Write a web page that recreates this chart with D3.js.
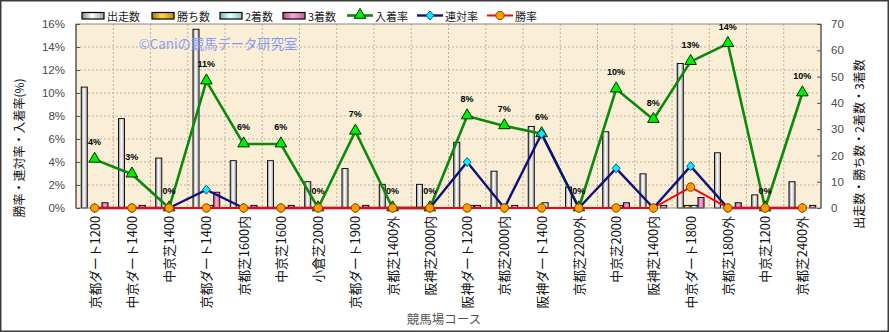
<!DOCTYPE html>
<html>
<head>
<meta charset="utf-8">
<script src="https://cdn.jsdelivr.net/npm/d3@7/dist/d3.min.js"></script>
<style>
  html, body { margin: 0; padding: 0; background: #fff; }
  svg { display: block; }
</style>
</head>
<body>
<svg id="chart" width="889" height="332"></svg>
<script>
// Courses (x categories)
const courses = ["京都ダート1200","中京ダート1400","中京芝1400","京都ダート1400","京都芝1600内","中京芝1600","小倉芝2000","京都ダート1900","京都芝1400外","阪神芝2000内","阪神ダート1200","京都芝2000内","阪神ダート1400","京都芝2200外","中京芝2000","阪神芝1400内","中京ダート1800","京都芝1800外","中京芝1200","京都芝2400外"];

// Counts (right axis)
const runs    = [46, 34, 19, 68, 18, 18, 10, 15, 9, 9, 25, 14, 31, 8, 29, 13, 55, 21, 5, 10];
const wins    = [0, 0, 0, 0, 0, 0, 0, 0, 0, 0, 0, 0, 0, 0, 0, 0, 1, 0, 0, 0];
const seconds = [0, 0, 0, 1, 0, 0, 0, 0, 0, 0, 1, 0, 2, 0, 1, 0, 1, 0, 0, 0];
const thirds  = [2, 1, 0, 6, 1, 1, 0, 1, 0, 0, 1, 1, 0, 0, 2, 1, 4, 2, 0, 1];

// Rates in percent (left axis)
const placeRate = [4.23, 2.94, 0, 11.04, 5.56, 5.56, 0, 6.67, 0, 0, 8.0, 7.14, 6.45, 0, 10.34, 7.69, 12.73, 14.29, 0, 10.0];
const top2Rate  = [0, 0, 0, 1.59, 0, 0, 0, 0, 0, 0, 4.0, 0, 6.45, 0, 3.45, 0, 3.64, 0, 0, 0];
const winRate   = [0, 0, 0, 0, 0, 0, 0, 0, 0, 0, 0, 0, 0, 0, 0, 0, 1.82, 0, 0, 0];

// Axis ticks
const leftTicks  = [0, 2, 4, 6, 8, 10, 12, 14, 16];
const rightTicks = [0, 10, 20, 30, 40, 50, 60, 70];

const svg = d3.select("#chart");
const W = 889, H = 332;
const plot = { x0: 76, x1: 821, y0: 24, y1: 208 };

const x = d3.scaleBand().domain(courses).range([plot.x0, plot.x1]).paddingInner(0).paddingOuter(0);
const yL = d3.scaleLinear().domain([0, 16]).range([plot.y1, plot.y0]);
const yR = d3.scaleLinear().domain([0, 70]).range([plot.y1, plot.y0]);

const barSeries = [
  { name: "出走数", values: runs,    grad: "gRun" },
  { name: "勝ち数", values: wins,    grad: "gWin" },
  { name: "2着数",  values: seconds, grad: "gSec" },
  { name: "3着数",  values: thirds,  grad: "gThd" }
];
const groupW = x.bandwidth() * 0.72;
const xi = d3.scaleBand().domain(barSeries.map(s => s.name)).range([0, groupW]).paddingInner(0.12);

// Gradients for cylinder-like bars
const defs = svg.append("defs");
function grad(id, edge, mid, edge2) {
  const g = defs.append("linearGradient").attr("id", id).attr("x1", "0").attr("x2", "1").attr("y1", "0").attr("y2", "0");
  g.append("stop").attr("offset", "0%").attr("stop-color", edge);
  g.append("stop").attr("offset", "45%").attr("stop-color", mid);
  g.append("stop").attr("offset", "100%").attr("stop-color", edge2);
}
grad("gRun", "#8a8a8a", "#ffffff", "#a0a0a0");
grad("gWin", "#b07800", "#ffd84a", "#c08a00");
grad("gSec", "#78b8b8", "#e8ffff", "#88c8c8");
grad("gThd", "#b05088", "#ffa8d8", "#c060a0");

// Outer frame
svg.append("rect").attr("x", 0.75).attr("y", 0.75).attr("width", W - 1.5).attr("height", H - 1.5)
  .attr("fill", "#fff").attr("stroke", "#3c3c3c").attr("stroke-width", 1.5);

// Plot background
svg.append("rect").attr("x", plot.x0).attr("y", plot.y0)
  .attr("width", plot.x1 - plot.x0).attr("height", plot.y1 - plot.y0)
  .attr("fill", "#faefd6");

// Grid
const grid = svg.append("g").attr("stroke", "#a8a39a").attr("stroke-width", 0.8).attr("stroke-dasharray", "2,2");
leftTicks.slice(1, -1).forEach(t => {
  grid.append("line").attr("x1", plot.x0).attr("x2", plot.x1).attr("y1", yL(t)).attr("y2", yL(t));
});
courses.slice(1).forEach(c => {
  grid.append("line").attr("x1", x(c)).attr("x2", x(c)).attr("y1", plot.y0).attr("y2", plot.y1);
});

// Bars
const bars = svg.append("g");
barSeries.forEach(s => {
  bars.selectAll(null).data(courses).enter().append("rect")
    .attr("x", (c) => x(c) + (x.bandwidth() - groupW) / 2 + xi(s.name))
    .attr("width", xi.bandwidth())
    .attr("y", (c, i) => yR(s.values[i]))
    .attr("height", (c, i) => yR(0) - yR(s.values[i]))
    .attr("fill", `url(#${s.grad})`)
    .attr("stroke", (c, i) => s.values[i] > 0 ? "#000" : "none")
    .attr("stroke-width", 0.9);
});

// Watermark
svg.append("text").attr("x", 218).attr("y", 43).attr("text-anchor", "middle").attr("dominant-baseline", "central")
  .attr("font-family", "'Noto Sans CJK JP', sans-serif").attr("font-size", 13.3)
  .attr("fill", "#889bf4").text("©Caniの競馬データ研究室");

// Plot frame
svg.append("rect").attr("x", plot.x0).attr("y", plot.y0)
  .attr("width", plot.x1 - plot.x0).attr("height", plot.y1 - plot.y0)
  .attr("fill", "none").attr("stroke", "#8a8a8a").attr("stroke-width", 1);
svg.append("line").attr("x1", plot.x0).attr("x2", plot.x0).attr("y1", plot.y0).attr("y2", plot.y1)
  .attr("stroke", "#6a6a6a").attr("stroke-width", 1.5);
svg.append("line").attr("x1", plot.x1).attr("x2", plot.x1).attr("y1", plot.y0).attr("y2", plot.y1)
  .attr("stroke", "#6a6a6a").attr("stroke-width", 1.5);

// Axes
const tickFont = "'Liberation Sans', Arial, sans-serif";
const axL = svg.append("g").attr("transform", `translate(${plot.x0},0)`)
  .call(d3.axisLeft(yL).tickValues(leftTicks).tickFormat(d => d + "%").tickSizeInner(-4).tickSizeOuter(0).tickPadding(11));
const axR = svg.append("g").attr("transform", `translate(${plot.x1},0)`)
  .call(d3.axisRight(yR).tickValues(rightTicks).tickSizeInner(-4).tickSizeOuter(0).tickPadding(10));
[axL, axR].forEach(a => {
  a.select(".domain").remove();
  a.selectAll(".tick line").attr("stroke", "#555");
  a.selectAll(".tick text").attr("font-family", tickFont).attr("font-size", 11.5).attr("fill", "#4a4a4a");
});

// Category labels
svg.append("g").selectAll("text").data(courses).enter().append("text")
  .attr("transform", c => `translate(${x(c) + x.bandwidth() / 2 + 0.5},216) rotate(-90)`)
  .attr("text-anchor", "end").attr("dy", "0.36em")
  .attr("font-family", "'Noto Sans CJK JP', sans-serif").attr("font-size", 12.8)
  .attr("fill", "#111").text(c => c);

// Axis titles
svg.append("text").attr("x", 444).attr("y", 318).attr("text-anchor", "middle").attr("dominant-baseline", "central")
  .attr("font-family", "'Noto Sans CJK JP', sans-serif").attr("font-size", 12.5).attr("fill", "#555")
  .text("競馬場コース");
svg.append("text").attr("transform", "translate(18.5,148) rotate(-90)").attr("text-anchor", "middle").attr("dominant-baseline", "central")
  .attr("font-family", "'Noto Sans CJK JP', sans-serif").attr("font-size", 12).attr("fill", "#111")
  .text("勝率・連対率・入着率(%)");
svg.append("text").attr("transform", "translate(858,144) rotate(-90)").attr("text-anchor", "middle").attr("dominant-baseline", "central")
  .attr("font-family", "'Noto Sans CJK JP', sans-serif").attr("font-size", 12).attr("fill", "#111")
  .text("出走数・勝ち数・2着数・3着数");

// Lines
const cx = c => x(c) + x.bandwidth() / 2;
const lineSeries = [
  { name: "入着率", values: placeRate, color: "#0a8a0a", width: 2.6, marker: "tri" },
  { name: "連対率", values: top2Rate,  color: "#10107a", width: 2.4, marker: "dia" },
  { name: "勝率",   values: winRate,   color: "#ff0000", width: 2.0, marker: "dot" }
];
const triPath = d3.symbol().type(d3.symbolTriangle).size(58)();
const diaPath = "M0,-4.5L4,0L0,4.5L-4,0Z";
function drawMarker(g, kind) {
  if (kind === "tri") {
    g.append("path").attr("d", triPath).attr("transform", "translate(0,-0.5)").attr("fill", "#00ee00").attr("stroke", "#003300").attr("stroke-width", 1);
  } else if (kind === "dia") {
    g.append("path").attr("d", diaPath).attr("fill", "#00f0ff").attr("stroke", "#104080").attr("stroke-width", 0.9);
  } else {
    g.append("circle").attr("r", 4.2).attr("fill", "#ff9a00").attr("stroke", "#7a4a00").attr("stroke-width", 1);
  }
}
lineSeries.forEach(s => {
  const line = d3.line().x((v, i) => cx(courses[i])).y(v => yL(v));
  svg.append("path").datum(s.values).attr("d", line).attr("fill", "none")
    .attr("stroke", s.color).attr("stroke-width", s.width).attr("stroke-linejoin", "round");
  s.values.forEach((v, i) => {
    const g = svg.append("g").attr("transform", `translate(${cx(courses[i])},${yL(v)})`);
    drawMarker(g, s.marker);
  });
  if (s.marker === "tri") {
    svg.append("g").selectAll("text").data(s.values).enter().append("text")
      .attr("x", (v, i) => cx(courses[i]))
      .attr("y", v => yL(v) - 14)
      .attr("text-anchor", "middle")
      .attr("font-family", "'Liberation Sans', Arial, sans-serif").attr("font-weight", "bold")
      .attr("font-size", 9).attr("fill", "#000")
      .text(v => Math.round(v) + "%");
  }
});

// Legend
const legend = svg.append("g").attr("font-family", "'Noto Sans CJK JP', sans-serif").attr("font-size", 11);
const barLegendX = [82, 152, 220, 283];
barSeries.forEach((s, i) => {
  legend.append("rect").attr("x", barLegendX[i]).attr("y", 12.5).attr("width", 22).attr("height", 6.5)
    .attr("fill", `url(#${s.grad})`).attr("stroke", "#000").attr("stroke-width", 1.2);
  legend.append("text").attr("x", barLegendX[i] + 25).attr("y", 16).attr("dominant-baseline", "central")
    .attr("fill", "#222").text(s.name);
});
const lineLegendX = [347, 417, 487];
lineSeries.forEach((s, i) => {
  legend.append("line").attr("x1", lineLegendX[i]).attr("x2", lineLegendX[i] + 26).attr("y1", 15.5).attr("y2", 15.5)
    .attr("stroke", s.color).attr("stroke-width", s.width);
  const g = legend.append("g").attr("transform", `translate(${lineLegendX[i] + 13},15.5)`);
  drawMarker(g, s.marker);
  legend.append("text").attr("x", lineLegendX[i] + 28).attr("y", 16).attr("dominant-baseline", "central")
    .attr("fill", "#222").text(s.name);
});
</script>
</body>
</html>
